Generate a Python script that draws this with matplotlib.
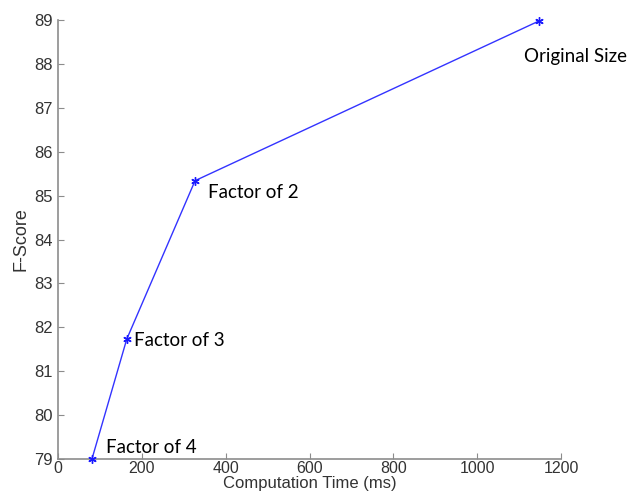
import matplotlib
matplotlib.use("Agg")
import matplotlib.pyplot as plt

# computation time vs F-score for each downsampling factor
time_ms = [81, 164, 327, 1148]
fscore = [79.0, 81.73, 85.34, 88.98]
labels = ["Factor of 4", "Factor of 3", "Factor of 2", "Original Size"]
# label offsets in pixels from each point (dx, dy), y up
offsets = [(14, 12), (7, -1), (13, -12), (-15, -36)]

xticks = [0, 200, 400, 600, 800, 1000, 1200]
yticks = list(range(79, 90))

DPI = 100
fig = plt.figure(figsize=(6.39, 4.95), dpi=DPI)
ax = fig.add_axes([58/639, 36/495, 503/639, 439/495])

ax.plot(time_ms, fscore, color=(0.2, 0.2, 1.0), lw=1.0, marker=(6, 2, 0), ms=6,
        mew=1.0, mec=(0.1, 0.1, 1.0), mfc=(0.1, 0.1, 1.0), clip_on=False, zorder=3)

for x, y, lab, (dx, dy) in zip(time_ms, fscore, labels, offsets):
    ax.annotate(lab, (x, y), xytext=(dx*72/DPI, dy*72/DPI), textcoords="offset points",
                ha="left", va="center", fontsize=13.5, family=["Lato", "DejaVu Sans"],
                color="black")

ax.set_xlim(0, 1200)
ax.set_ylim(79, 89)
ax.set_xticks(xticks)
ax.set_yticks(yticks)

gray = "#8c8c8c"
for s in ["top", "right"]:
    ax.spines[s].set_visible(False)
for s in ["left", "bottom"]:
    ax.spines[s].set_color(gray)
    ax.spines[s].set_linewidth(1.2)
ax.tick_params(direction="in", length=4, width=0.8, color=gray,
               labelsize=12, labelcolor="#333333")
ax.tick_params(axis="x", labelsize=11.5, pad=1.5)
ax.tick_params(axis="y", pad=4)
for t in ax.get_xticklabels() + ax.get_yticklabels():
    t.set_family(["Liberation Sans", "DejaVu Sans"])

ax.set_xlabel("Computation Time (ms)", fontsize=12, color="#333333",
              family=["Liberation Sans", "DejaVu Sans"], labelpad=0)
ax.set_ylabel("F-Score", fontsize=13, color="#333333",
              family=["Liberation Sans", "DejaVu Sans"], labelpad=3)

fig.savefig("out.png", dpi=DPI)
